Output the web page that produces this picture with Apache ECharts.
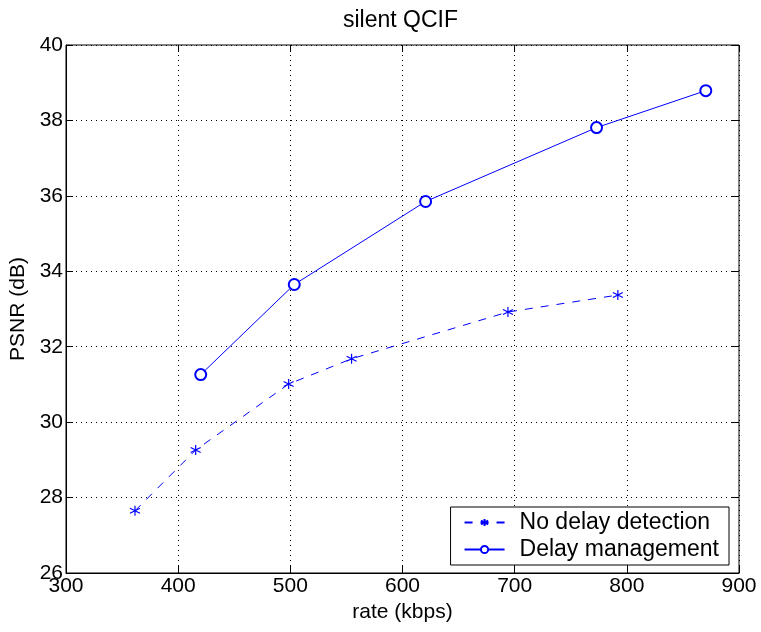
<!DOCTYPE html>
<html>
<head>
<meta charset="utf-8">
<script src="https://cdn.jsdelivr.net/npm/echarts@6/dist/echarts.min.js"></script>
<style>
  html, body { margin: 0; padding: 0; background: #fff; }
  #chart { width: 761px; height: 632px; }
</style>
</head>
<body>
<div id="chart"></div>
<script>
// values
const noDelayRate = [361.5, 415.6, 498.5, 554.6, 694, 792];
const noDelayPsnr = [27.65, 29.26, 31.01, 31.68, 32.92, 33.37];
const delayMgmtRate = [420.1, 503.5, 620.6, 773, 870.4];
const delayMgmtPsnr = [31.26, 33.65, 35.85, 37.81, 38.79];

const xTicks = [300, 400, 500, 600, 700, 800, 900];
const yTicks = [26, 28, 30, 32, 34, 36, 38, 40];

const font = '"Liberation Sans", Arial, Helvetica, sans-serif';
const blue = '#0000ff';
const starPath = 'path://M0,-6L0,6M-5.2,-3L5.2,3M-5.2,3L5.2,-3';

const chart = echarts.init(document.getElementById('chart'));

const pairs = (xs, ys) => xs.map((x, i) => [x, ys[i]]);

const innerTick = { show: true, inside: true, length: 7, lineStyle: { color: '#000', width: 1 } };

chart.setOption({
  animation: false,
  backgroundColor: '#fff',
  title: {
    text: 'silent QCIF',
    left: 343, top: 9,
    padding: 0,
    textStyle: { fontFamily: font, fontSize: 23, fontWeight: 'normal', color: '#000' }
  },
  grid: {
    left: 66, right: 22, top: 45, bottom: 59,
    outerBoundsMode: 'none', containLabel: false,
    show: true, borderColor: '#000', borderWidth: 1
  },
  legend: {
    right: 32, bottom: 67,
    orient: 'vertical',
    backgroundColor: '#fff',
    borderColor: '#000', borderWidth: 1,
    borderRadius: 0,
    padding: [4, 10, 4, 13],
    itemGap: 4,
    itemWidth: 40, itemHeight: 9,
    textStyle: { fontFamily: font, fontSize: 23, color: '#000', padding: [0, 0, 0, 10] },
    data: ['No delay detection', 'Delay management']
  },
  xAxis: [{
    type: 'value', min: 300, max: 900, interval: 100,
    name: 'rate (kbps)', nameLocation: 'middle', nameGap: 26,
    nameTextStyle: { fontFamily: font, fontSize: 21, color: '#000' },
    axisLine: { show: true, onZero: false, lineStyle: { color: '#000' } },
    axisTick: innerTick,
    axisLabel: { fontFamily: font, fontSize: 21, color: '#000', margin: 3,
      formatter: v => xTicks.includes(v) ? String(v) : '' },
    splitLine: { show: true, lineStyle: { color: '#000', type: [1, 4], width: 1 } }
  }, {
    type: 'value', min: 300, max: 900, interval: 100, position: 'top',
    axisLine: { show: false }, axisTick: innerTick, axisLabel: { show: false }, splitLine: { show: false }
  }],
  yAxis: [{
    type: 'value', min: 26, max: 40, interval: 2,
    name: 'PSNR (dB)', nameLocation: 'middle', nameGap: 33,
    nameTextStyle: { fontFamily: font, fontSize: 21, color: '#000' },
    axisLine: { show: true, onZero: false, lineStyle: { color: '#000' } },
    axisTick: innerTick,
    axisLabel: { fontFamily: font, fontSize: 21, color: '#000', margin: 3,
      formatter: v => yTicks.includes(v) ? String(v) : '' },
    splitLine: { show: true, lineStyle: { color: '#000', type: [1, 4], width: 1 } }
  }, {
    type: 'value', min: 26, max: 40, interval: 2, position: 'right',
    axisLine: { show: false }, axisTick: innerTick, axisLabel: { show: false }, splitLine: { show: false }
  }],
  series: [{
    name: 'No delay detection',
    type: 'line',
    data: pairs(noDelayRate, noDelayPsnr),
    symbol: starPath, symbolSize: 10,
    itemStyle: { color: blue, borderColor: blue, borderWidth: 1.2 },
    lineStyle: { color: blue, width: 1, type: [8, 8] }
  }, {
    name: 'Delay management',
    type: 'line',
    data: pairs(delayMgmtRate, delayMgmtPsnr),
    symbol: 'emptyCircle', symbolSize: 11,
    itemStyle: { color: blue, borderColor: blue, borderWidth: 1 },
    lineStyle: { color: blue, width: 1 }
  }]
});
</script>
</body>
</html>
